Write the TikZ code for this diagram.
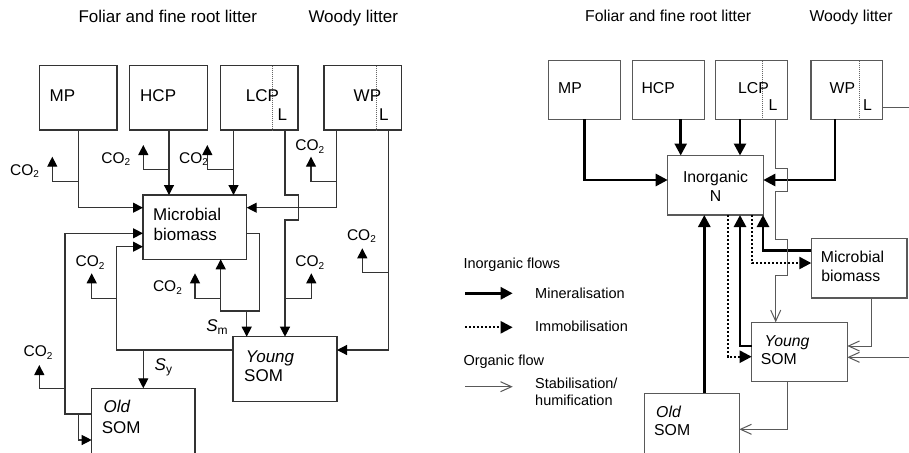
\documentclass[tikz,border=0pt]{standalone}
\usepackage{fontspec}
\setmainfont{Liberation Sans}
\usetikzlibrary{arrows.meta}
\newcommand\cotwo{CO\raisebox{-2.5pt}{\fontsize{10}{10}\selectfont 2}}
\newcommand\subsc[1]{\raisebox{-3pt}{\fontsize{12}{12}\selectfont #1}}
\begin{document}
\begin{tikzpicture}[x=1pt,y=-1pt,
  boxL/.style={draw=black!80,line width=1.2pt,inner sep=0pt,outer sep=0pt,anchor=north west},
  boxR/.style={draw=black!65,line width=1.1pt,inner sep=0pt,outer sep=0pt,anchor=north west},
  divider/.style={draw=black!60,line width=0.8pt,dash pattern=on 1pt off 1pt},
  txtL/.style={inner sep=0pt,anchor=base west,font=\fontsize{17}{20}\selectfont},
  txtR/.style={inner sep=0pt,anchor=base west,font=\fontsize{15.8}{19}\selectfont},
  txtRc/.style={inner sep=0pt,anchor=base,font=\fontsize{15.8}{19}\selectfont},
  txtLeg/.style={inner sep=0pt,anchor=base west,font=\fontsize{14.5}{17}\selectfont},
  cotxt/.style={inner sep=0pt,anchor=base west,font=\fontsize{15.5}{18}\selectfont},
  lnL/.style={draw=black!80,line width=1.2pt},
  arL/.style={lnL,-{Triangle[length=10pt,width=10pt,color=black]}},
  mineral/.style={draw=black,line width=2.7pt,-{Triangle[length=12pt,width=12pt]}},
  immob/.style={draw=black,line width=2.3pt,dash pattern=on 2pt off 2pt,-{Triangle[length=12pt,width=12pt]}},
  organic/.style={draw=black!65,line width=1pt,-{Straight Barb[length=11pt,width=10pt]}},
]
\useasboundingbox (0,0) rectangle (909,452);
\fill[white] (0,0) rectangle (909,452);
\clip (0,0) rectangle (909,452);

% ================= LEFT PANEL =================
\node[txtL] (titL1) at (78.3,22.7) {Foliar and fine root litter};
\node[txtL] (titL2) at (308.3,22.7) {Woody litter};

\node[boxL,minimum width=77.5pt,minimum height=64.3pt] (mpL) at (39.5,65.7) {};
\node[boxL,minimum width=78pt,minimum height=64.3pt] (hcpL) at (129.5,65.7) {};
\node[boxL,minimum width=77.5pt,minimum height=64.3pt] (lcpL) at (220.5,65.7) {};
\node[boxL,minimum width=77.7pt,minimum height=64.3pt] (wpL) at (324,65.7) {};
\node[boxL,minimum width=103.7pt,minimum height=64.3pt] (mbL) at (143,195) {};
\node[boxL,minimum width=104pt,minimum height=65pt] (ysL) at (233,336.7) {};
\node[boxL,minimum width=103.3pt,minimum height=90pt] (osL) at (91.7,388.3) {};

\draw[divider] (lcpL.north -| 272.7,0) -- (lcpL.south -| 272.7,0);
\draw[divider] (wpL.north -| 376,0) -- (wpL.south -| 376,0);

\node[txtL] (tmpL) at (49.5,101.7) {MP};
\node[txtL] (thcpL) at (140,101.7) {HCP};
\node[txtL] (tlcpL) at (245.7,101.7) {LCP};
\node[txtL] (tlcpLl) at (277.3,120) {L};
\node[txtL] (twpL) at (353.5,101.7) {WP};
\node[txtL] (twpLl) at (379,120) {L};
\node[txtL] (tmb1L) at (153,220) {Microbial};
\node[txtL] (tmb2L) at (153.5,240) {biomass};
\node[txtL] (tys1L) at (245.7,362.7) {\itshape Young};
\node[txtL] (tys2L) at (244,381.7) {SOM};
\node[txtL] (tos1L) at (103.5,412.7) {\itshape Old};
\node[txtL] (tos2L) at (101.7,433.3) {SOM};
\node[txtL] (smL) at (206.2,331.7) {\itshape S\subsc{\upshape m}};
\node[txtL] (syL) at (154.5,370) {\itshape S\subsc{\upshape y}};

% CO2 labels
\node[cotxt] (caL) at (10,175) {\cotwo};
\node[cotxt] (cbL) at (101.2,163.3) {\cotwo};
\node[cotxt] (ccL) at (179,163.3) {\cotwo};
\node[cotxt] (cdL) at (295.2,150.7) {\cotwo};
\node[cotxt] (ceL) at (346.8,240) {\cotwo};
\node[cotxt] (cfL) at (295.2,266.7) {\cotwo};
\node[cotxt] (cgL) at (152.8,291.7) {\cotwo};
\node[cotxt] (chL) at (75.5,266.7) {\cotwo};
\node[cotxt] (ciL) at (23.5,356.7) {\cotwo};

% CO2 arrow tips
\coordinate (tA) at (52.3,156.7);
\coordinate (tB) at (143.3,145);
\coordinate (tC) at (207.3,145);
\coordinate (tD) at (311,156.7);
\coordinate (tE) at (362.3,248.3);
\coordinate (tF) at (311.3,273.3);
\coordinate (tG) at (195,273.3);
\coordinate (tH) at (91.7,273.3);
\coordinate (tI) at (39.3,365);

% MP
\draw[arL] (mpL.south) |- (mbL.west |- 0,207.7);
\draw[arL] (mpL.south |- 0,181.7) -| (tA);
% HCP
\draw[arL] (hcpL.south -| 169,0) -- (mbL.north -| 169,0);
\draw[arL] (169,169.3) -| (tB);
% LCP
\draw[arL] (lcpL.south -| 233.5,0) -- (mbL.north -| 233.5,0);
\draw[arL] (233.5,169.3) -| (tC);
% LCP lignin part
\draw[arL] (lcpL.south -| 285,0) -- (285,195) -- (298.3,195) -- (298.3,220) -- (285,220) -- (ysL.north -| 285,0);
\draw[arL] (285,298.3) -| (tF);
% WP
\draw[arL] (wpL.south -| 336.7,0) |- (mbL.east |- 0,207.7);
\draw[arL] (336.7,181.7) -| (tD);
% WP lignin part
\draw[arL] (wpL.south -| 388.3,0) |- (ysL.east |- 0,350);
\draw[arL] (388.3,272.3) -| (tE);
% Microbial loop
\draw[arL] (mbL.east |- 0,233.3) -| (259.3,311) -| (mbL.south -| 220.7,0);
\draw[arL] (246.7,311) -- (ysL.north -| 246.7,0);
\draw[arL] (220.7,298.3) -| (tG);
% Young SOM
\draw[arL] (ysL.west |- 0,350) -| (116.7,246.7) -- (mbL.west |- 0,246.7);
\draw[arL] (143.3,350) -- (osL.north -| 143.3,0);
\draw[arL] (116.7,298.3) -| (tH);
% Old SOM
\draw[arL] (osL.west |- 0,414) -| (65,233.3) -- (mbL.west |- 0,233.3);
\draw[arL] (65,388.3) -| (tI);
\draw[arL] (78.3,414) |- (osL.west |- 0,440);

% ================= RIGHT PANEL =================
\node[txtR] (titR1) at (585,21.3) {Foliar and fine root litter};
\node[txtR] (titR2) at (809.3,21.3) {Woody litter};

\node[boxR,minimum width=72.4pt,minimum height=58.6pt] (mpR) at (548.3,60.7) {};
\node[boxR,minimum width=72pt,minimum height=58.6pt] (hcpR) at (632.3,60.7) {};
\node[boxR,minimum width=72pt,minimum height=58.6pt] (lcpR) at (715.3,60.7) {};
\node[boxR,minimum width=71.7pt,minimum height=58.6pt] (wpR) at (811,60.7) {};
\node[boxR,minimum width=95.6pt,minimum height=59.5pt] (inR) at (667.7,155.5) {};
\node[boxR,minimum width=95.7pt,minimum height=59.3pt] (mbR) at (811.3,238.7) {};
\node[boxR,minimum width=95.6pt,minimum height=59.4pt] (ysR) at (751.7,322.3) {};
\node[boxR,minimum width=95pt,minimum height=90pt] (osR) at (644.3,393.3) {};

\draw[divider] (lcpR.north -| 762.7,0) -- (lcpR.south -| 762.7,0);
\draw[divider] (wpR.north -| 859.3,0) -- (wpR.south -| 859.3,0);

\node[txtR] (tmpR) at (558,93.3) {MP};
\node[txtR] (thcpR) at (641.3,93.3) {HCP};
\node[txtR] (tlcpR) at (738,93.3) {LCP};
\node[txtR] (tlcpRl) at (768.3,110.7) {L};
\node[txtR] (twpR) at (829.5,93.3) {WP};
\node[txtR] (twpRl) at (863,110.7) {L};
\node[txtRc] (tin1R) at (715.5,182.7) {Inorganic};
\node[txtRc] (tin2R) at (715.5,201.7) {N};
\node[txtR] (tmb1R) at (820.7,262.7) {Microbial};
\node[txtR] (tmb2R) at (821.2,281.5) {biomass};
\node[txtR] (tys1R) at (764.5,346.7) {\itshape Young};
\node[txtR] (tys2R) at (760.7,364.3) {SOM};
\node[txtR] (tos1R) at (656,417.3) {\itshape Old};
\node[txtR] (tos2R) at (654,435) {SOM};

% mineralisation
\draw[mineral] (mpR.south) |- (inR.west |- 0,180);
\draw[mineral] (hcpR.south -| 680.7,0) -- (inR.north -| 680.7,0);
\draw[mineral] (lcpR.south -| 740,0) -- (inR.north -| 740,0);
\draw[mineral] (wpR.south -| 835,0) |- (inR.east |- 0,180);
\draw[mineral] (osR.north -| 704.3,0) -- (inR.south -| 704.3,0);
\draw[mineral] (ysR.west |- 0,346) -| (inR.south -| 740,0);
\draw[mineral] (mbR.west |- 0,250.7) -| (inR.south -| 763,0);
% immobilisation
\draw[immob] (inR.south -| 727.7,0) |- (ysR.west |- 0,356.7);
\draw[immob] (inR.south -| 752.3,0) |- (mbR.west |- 0,263);
% organic
\draw[organic] (lcpR.south -| 775.7,0) -- (775.7,168.3) -- (787,168.3) -- (787,191) -- (775.7,191) -- (775.7,239.3) -- (787,239.3) -- (787,275) -- (775.7,275) -- (ysR.north -| 775.7,0);
\draw[organic] (mbR.south -| 871.7,0) |- (ysR.east |- 0,346);
\draw[organic] (wpR.east |- 0,107.3) -- (925,107.3) -- (925,357.3) -- (ysR.east |- 0,357.3);
\draw[organic] (ysR.south -| 787.5,0) |- (osR.east |- 0,429.3);

% legend
\node[txtLeg] (lgT1) at (463.3,268.7) {Inorganic flows};
\node[txtLeg] (lgM) at (535,298) {Mineralisation};
\node[txtLeg] (lgI) at (535,331.7) {Immobilisation};
\node[txtLeg] (lgT2) at (463.3,365) {Organic flow};
\node[txtLeg] (lgS1) at (535,388.7) {Stabilisation/};
\node[txtLeg] (lgS2) at (535,405.3) {humification};
\coordinate (lg1a) at (465,293.3); \coordinate (lg1b) at (512.7,293.3);
\coordinate (lg2a) at (465,327.3); \coordinate (lg2b) at (512.7,327.3);
\coordinate (lg3a) at (465,386.7); \coordinate (lg3b) at (512.7,386.7);
\draw[mineral] (lg1a) -- (lg1b);
\draw[immob] (lg2a) -- (lg2b);
\draw[organic] (lg3a) -- (lg3b);
\end{tikzpicture}
\end{document}
